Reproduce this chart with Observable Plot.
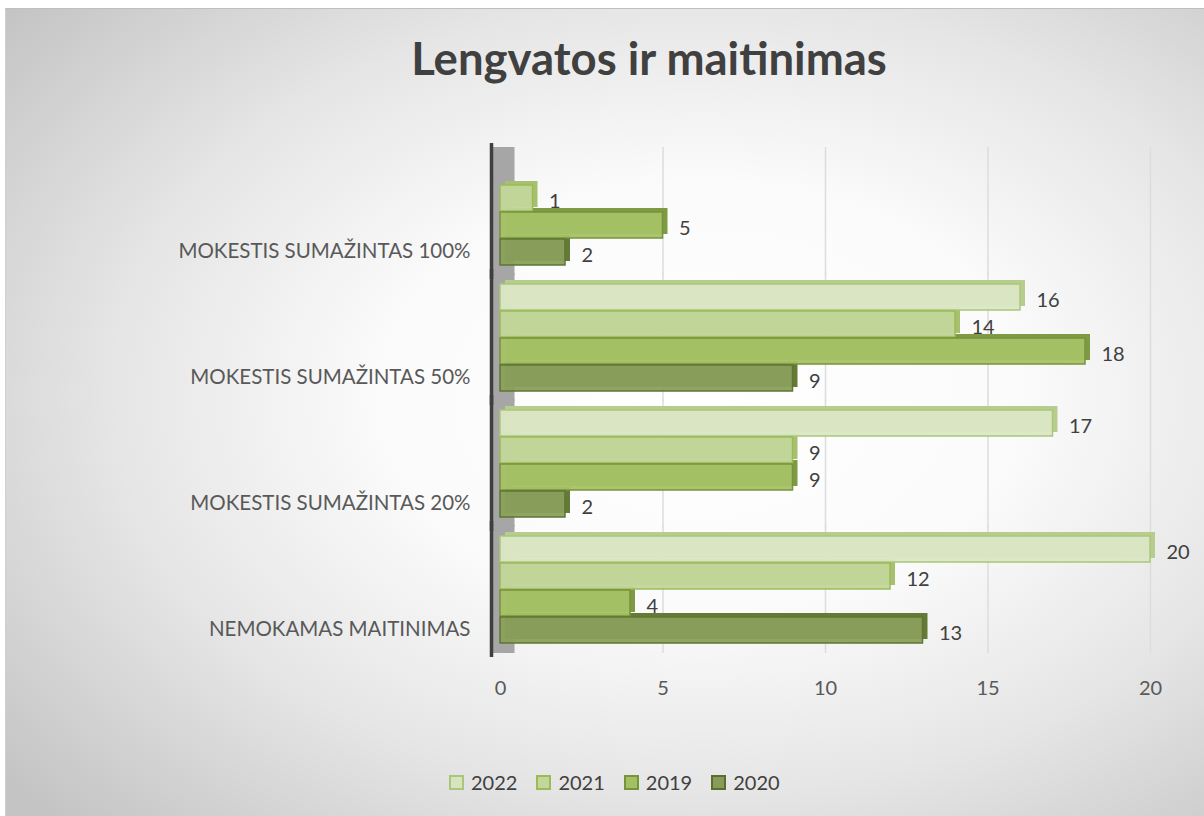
<!DOCTYPE html>
<html>
<head>
<meta charset="utf-8">
<script src="https://cdn.jsdelivr.net/npm/d3@7"></script>
<script src="https://cdn.jsdelivr.net/npm/@observablehq/plot@0.6"></script>
<style>
  body { margin: 0; width: 1204px; height: 816px; background: #ffffff; position: relative; overflow: hidden; font-family: Lato, "Open Sans", sans-serif; }
  #bg { position: absolute; left: 5px; top: 8px; width: 1199px; height: 808px;
        background: radial-gradient(ellipse 75% 75% at 58% 48%, #ffffff 0%, #fbfbfb 35%, #e6e6e6 65%, #c4c4c4 100%);
        border-top: 1px solid #bfbfbf; border-left: 1px solid #d0d0d0; box-sizing: border-box; }
  #title { position: absolute; left: 0; top: 30px; width: 1298px; text-align: center; font-size: 45.5px; font-weight: bold; color: #404040; }
  #chart { position: absolute; left: 0; top: 130px; }
  #legend { position: absolute; top: 770px; left: 449px; display: flex; gap: 19px; font-size: 20px; color: #404040; }
  .item { display: flex; align-items: center; gap: 7px; }
  .sw { width: 11px; height: 11px; border: 2px solid; }
</style>
</head>
<body>
<div id="bg"></div>
<div id="title">Lengvatos ir maitinimas</div>
<div id="chart"></div>
<div id="legend"></div>
<script>
const categories = ["MOKESTIS SUMAŽINTAS 100%", "MOKESTIS SUMAŽINTAS 50%", "MOKESTIS SUMAŽINTAS 20%", "NEMOKAMAS MAITINIMAS"];
const series = ["2022", "2021", "2019", "2020"];
const values2022 = [null, 16, 17, 20];
const values2021 = [1, 14, 9, 12];
const values2019 = [5, 18, 9, 4];
const values2020 = [2, 9, 2, 13];
const xTicks = [0, 5, 10, 15, 20];
const fillColors = ["#dbe7c6", "#c3d69b", "#a5c266", "#8a9f5c"];
const strokeColors = ["#a9c77a", "#9bbb59", "#77933c", "#5f7532"];
const backColors = ["#b7cd8e", "#a6c06e", "#7e9b43", "#647a36"];
const legendFill = ["#d7e4bd", "#c3d69b", "#a3c063", "#8a9a5b"];
const legendStroke = ["#a9c77a", "#9bbb59", "#77933c", "#5a6e30"];

const seriesValues = [values2022, values2021, values2019, values2020];
const data = [];
categories.forEach((c, i) => {
  series.forEach((s, j) => {
    const v = seriesValues[j][i];
    if (v != null) data.push({category: c, series: s, value: v});
  });
});

const fillScale = d3.scaleOrdinal(series, fillColors);
const strokeScale = d3.scaleOrdinal(series, strokeColors);
const backScale = d3.scaleOrdinal(series, backColors);

const chart = Plot.plot({
  width: 1204,
  height: 590,
  marginLeft: 500,
  marginRight: 54,
  marginTop: 27,
  marginBottom: 77,
  style: {background: "transparent", fontFamily: "Lato, 'Open Sans', sans-serif", color: "#595959"},
  x: {domain: [0, 20], axis: null},
  y: {domain: series, axis: null, paddingInner: 0.05, paddingOuter: 0},
  fy: {domain: categories, paddingInner: 0.143, paddingOuter: 0, axis: null},
  marks: [
    Plot.ruleX(xTicks.slice(1), {stroke: "#dcdcdc", strokeWidth: 1.5, insetTop: -10, insetBottom: -10}),
    Plot.ruleX([0], {stroke: "#a6a6a6", strokeWidth: 22, dx: 3, insetTop: -10, insetBottom: -10}),
    Plot.ruleX([0], {stroke: "#3f3f3f", strokeWidth: 3.5, dx: -9, insetTop: -14, insetBottom: -14}),
    Plot.barX(data, {x: "value", y: "series", fy: "category", fill: d => backScale(d.series), dx: 5, dy: -4}),
    Plot.barX(data, {x: "value", y: "series", fy: "category", fill: d => fillScale(d.series), fillOpacity: 0.95, stroke: d => strokeScale(d.series), strokeWidth: 1.5}),
    Plot.text(data, {x: "value", y: "series", fy: "category", text: d => String(d.value), textAnchor: "start", dx: 16, dy: 3, fontSize: 20, fill: "#404040"}),
    Plot.axisFy({anchor: "left", tickSize: 0, tickPadding: 30, dy: 40, fontSize: 20.5, label: null, fill: "#595959"}),
    Plot.axisX({ticks: xTicks, tickSize: 0, tickPadding: 37, fontSize: 20, label: null, fill: "#595959"})
  ]
});
document.getElementById("chart").appendChild(chart);

const legend = document.getElementById("legend");
series.forEach((s, i) => {
  const item = document.createElement("div");
  item.className = "item";
  const sw = document.createElement("span");
  sw.className = "sw";
  sw.style.background = legendFill[i];
  sw.style.borderColor = legendStroke[i];
  const t = document.createElement("span");
  t.textContent = s;
  item.appendChild(sw);
  item.appendChild(t);
  legend.appendChild(item);
});
</script>
</body>
</html>
